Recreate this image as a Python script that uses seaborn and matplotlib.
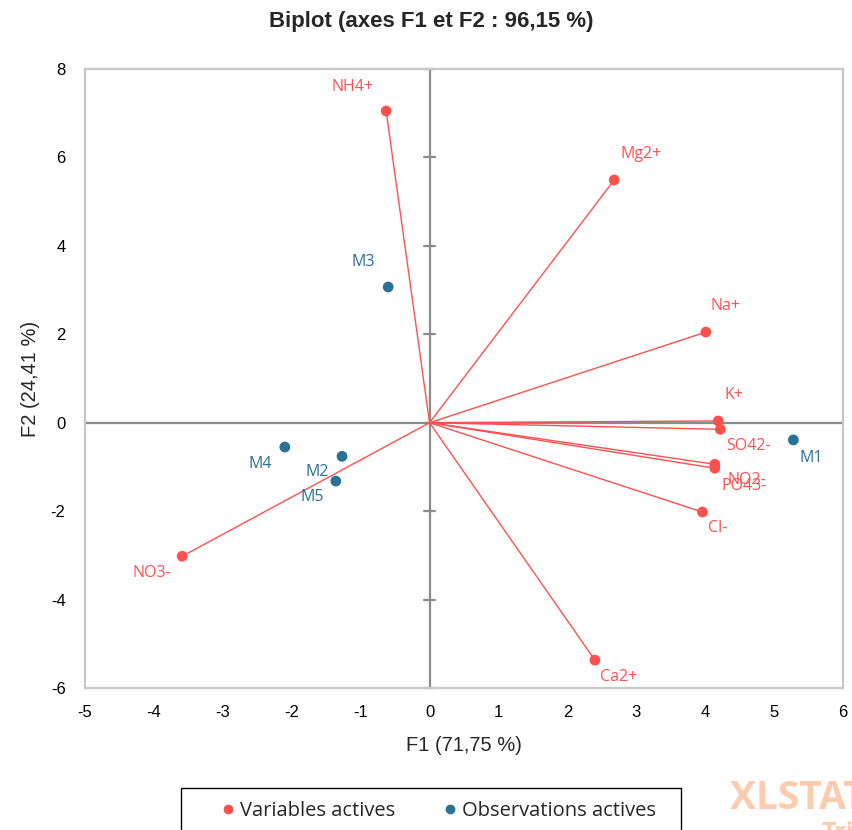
import matplotlib
matplotlib.use("Agg")
import matplotlib.pyplot as plt
import seaborn as sns
import pandas as pd
from matplotlib.patches import Rectangle
from matplotlib.lines import Line2D

# Active variables (coordinates on F1 / F2)
var_names = ["NH4+", "Mg2+", "Na+", "K+", "SO42-", "NO2-", "PO43-", "Cl-", "Ca2+", "NO3-"]
var_f1 = [-0.63, 2.68, 4.01, 4.19, 4.22, 4.14, 4.14, 3.96, 2.40, -3.59]
var_f2 = [7.05, 5.49, 2.05, 0.04, -0.15, -0.94, -1.03, -2.02, -5.37, -3.02]

# Active observations
obs_names = ["M1", "M2", "M3", "M4", "M5"]
obs_f1 = [5.28, -1.27, -0.60, -2.10, -1.36]
obs_f2 = [-0.39, -0.76, 3.07, -0.55, -1.32]

x_ticks = [-5, -4, -3, -2, -1, 0, 1, 2, 3, 4, 5, 6]
y_ticks = [-6, -4, -2, 0, 2, 4, 6, 8]

RED = "#FF5050"
BLUE = "#2A7196"

# label offsets in pixels (dx, dy) relative to each point
label_offsets = {
    "NH4+": (-34, 24), "Mg2+": (27, 26), "Na+": (20, 26), "K+": (16, 26),
    "SO42-": (28, -17), "NO2-": (32, -16), "PO43-": (29, -18), "Cl-": (15, -16),
    "Ca2+": (24, -17), "NO3-": (-30, -17),
    "M1": (18, -18), "M2": (-25, -16), "M3": (-25, 25), "M4": (-25, -17), "M5": (-24, -16),
}

sns.set_theme(style="white")
plt.rcParams["font.family"] = ["Liberation Sans", "DejaVu Sans"]

df = pd.concat([
    pd.DataFrame({"F1": var_f1, "F2": var_f2, "name": var_names, "kind": "Variables actives"}),
    pd.DataFrame({"F1": obs_f1, "F2": obs_f2, "name": obs_names, "kind": "Observations actives"}),
], ignore_index=True)

fig = plt.figure(figsize=(8.52, 8.30), dpi=100)
ax = fig.add_axes([85 / 852, 1 - 688 / 830, 758 / 852, 619 / 830])

ax.set_xlim(-5, 6)
ax.set_ylim(-6, 8)

# zero axes through the origin
ax.axhline(0, color="#8C8C8C", lw=1.6, zorder=1)
ax.axvline(0, color="#8C8C8C", lw=1.6, zorder=1)
for yt in y_ticks:
    ax.plot([-0.085, 0.085], [yt, yt], color="#8C8C8C", lw=1.6, zorder=1, clip_on=False)

# vectors from the origin to each variable
for x, y in zip(var_f1, var_f2):
    ax.plot([0, x], [0, y], color=RED, lw=1.0, zorder=2)

sns.scatterplot(data=df, x="F1", y="F2", hue="kind",
                palette={"Variables actives": RED, "Observations actives": BLUE},
                s=60, edgecolor="none", legend=False, ax=ax, zorder=3)

for _, row in df.iterrows():
    dx, dy = label_offsets[row["name"]]
    col = RED if row["kind"] == "Variables actives" else BLUE
    ax.annotate(row["name"], (row["F1"], row["F2"]), xytext=(dx, dy),
                textcoords="offset pixels", ha="center", va="center",
                fontsize=11.5, color=col, family=["Open Sans", "DejaVu Sans"])

for sp in ax.spines.values():
    sp.set_color("#C8C8C8")
    sp.set_linewidth(1.6)

ax.set_xticks(x_ticks)
ax.set_yticks(y_ticks)
ax.set_xticklabels([str(t) for t in x_ticks])
ax.set_yticklabels([str(t) for t in y_ticks])
ax.tick_params(axis="both", length=0, labelsize=12, colors="#000000")
ax.tick_params(axis="x", pad=12)
ax.tick_params(axis="y", pad=14)

ax.set_xlabel("F1 (71,75 %)", fontsize=14.5, labelpad=12)
ax.set_ylabel("F2 (24,41 %)", fontsize=14.5, labelpad=8)

fig.text(431 / 852, 1 - 22 / 830, "Biplot (axes F1 et F2 : 96,15 %)",
         ha="center", va="center", fontsize=16, fontweight="bold")

# legend box running off the bottom edge
fig.patches.append(Rectangle((181 / 852, -0.02), 500 / 852, 0.02 + 42 / 830,
                             transform=fig.transFigure, fill=False,
                             edgecolor="#000000", lw=1.0))
handles = [
    Line2D([], [], marker="o", ls="none", color=RED, markersize=6),
    Line2D([], [], marker="o", ls="none", color=BLUE, markersize=6),
]
fig.legend(handles, ["Variables actives", "Observations actives"],
           loc="center", bbox_to_anchor=(437 / 852, 1 - 811 / 830),
           ncol=2, frameon=False, handletextpad=0.1,
           columnspacing=2.2, handlelength=1.0,
           prop={"family": ["Open Sans", "DejaVu Sans"], "size": 14.5})

# trial watermark
fig.text(730 / 852, 1 - 798 / 830, "XLSTAT", ha="left", va="center",
         fontsize=28, fontweight="bold", color="#FFCBAE",
         family=["Open Sans", "DejaVu Sans"])
fig.text(822 / 852, 1 - 834 / 830, "Trial", ha="left", va="center",
         fontsize=18, fontweight="bold", color="#FFCBAE",
         family=["Open Sans", "DejaVu Sans"])

fig.savefig("out.png", dpi=100)
